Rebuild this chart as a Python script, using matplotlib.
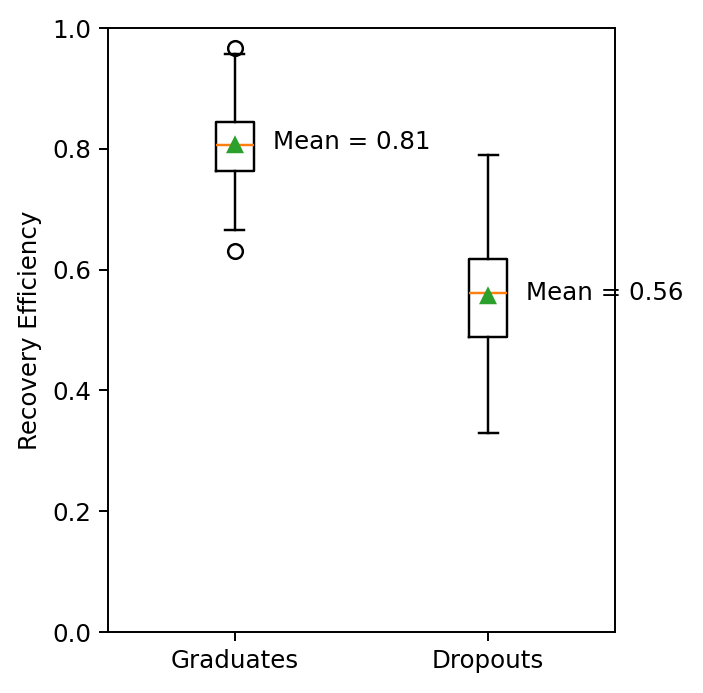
import matplotlib
matplotlib.use("Agg")
import matplotlib.pyplot as plt
import numpy as np

# Box statistics
labels = ["Graduates", "Dropouts"]
medians = [0.806, 0.561]
q1s = [0.763, 0.489]
q3s = [0.844, 0.618]
whis_lo = [0.665, 0.329]
whis_hi = [0.957, 0.790]
means = [0.806, 0.556]
fliers = [[0.967, 0.631], []]
mean_text = ["Mean = 0.81", "Mean = 0.56"]

stats = []
for i, lab in enumerate(labels):
    stats.append({
        "label": lab,
        "med": medians[i],
        "q1": q1s[i],
        "q3": q3s[i],
        "whislo": whis_lo[i],
        "whishi": whis_hi[i],
        "mean": means[i],
        "fliers": np.array(fliers[i]),
    })

DPI = 176
fig = plt.figure(figsize=(703 / DPI, 693 / DPI), dpi=DPI)
ax = fig.add_axes([108 / 703, 1 - 632 / 693, (615 - 108) / 703, (632 - 28) / 693])

positions = [1, 2]
ax.bxp(stats, positions=positions, showmeans=True, widths=0.15)

for pos, m, txt in zip(positions, means, mean_text):
    ax.text(pos + 0.15, m + 0.005, txt, va="center", ha="left")

ax.set_xlim(0.5, 2.5)
ax.set_ylim(0, 1)
ax.set_ylabel("Recovery Efficiency")

fig.savefig("out.png", dpi=DPI)
